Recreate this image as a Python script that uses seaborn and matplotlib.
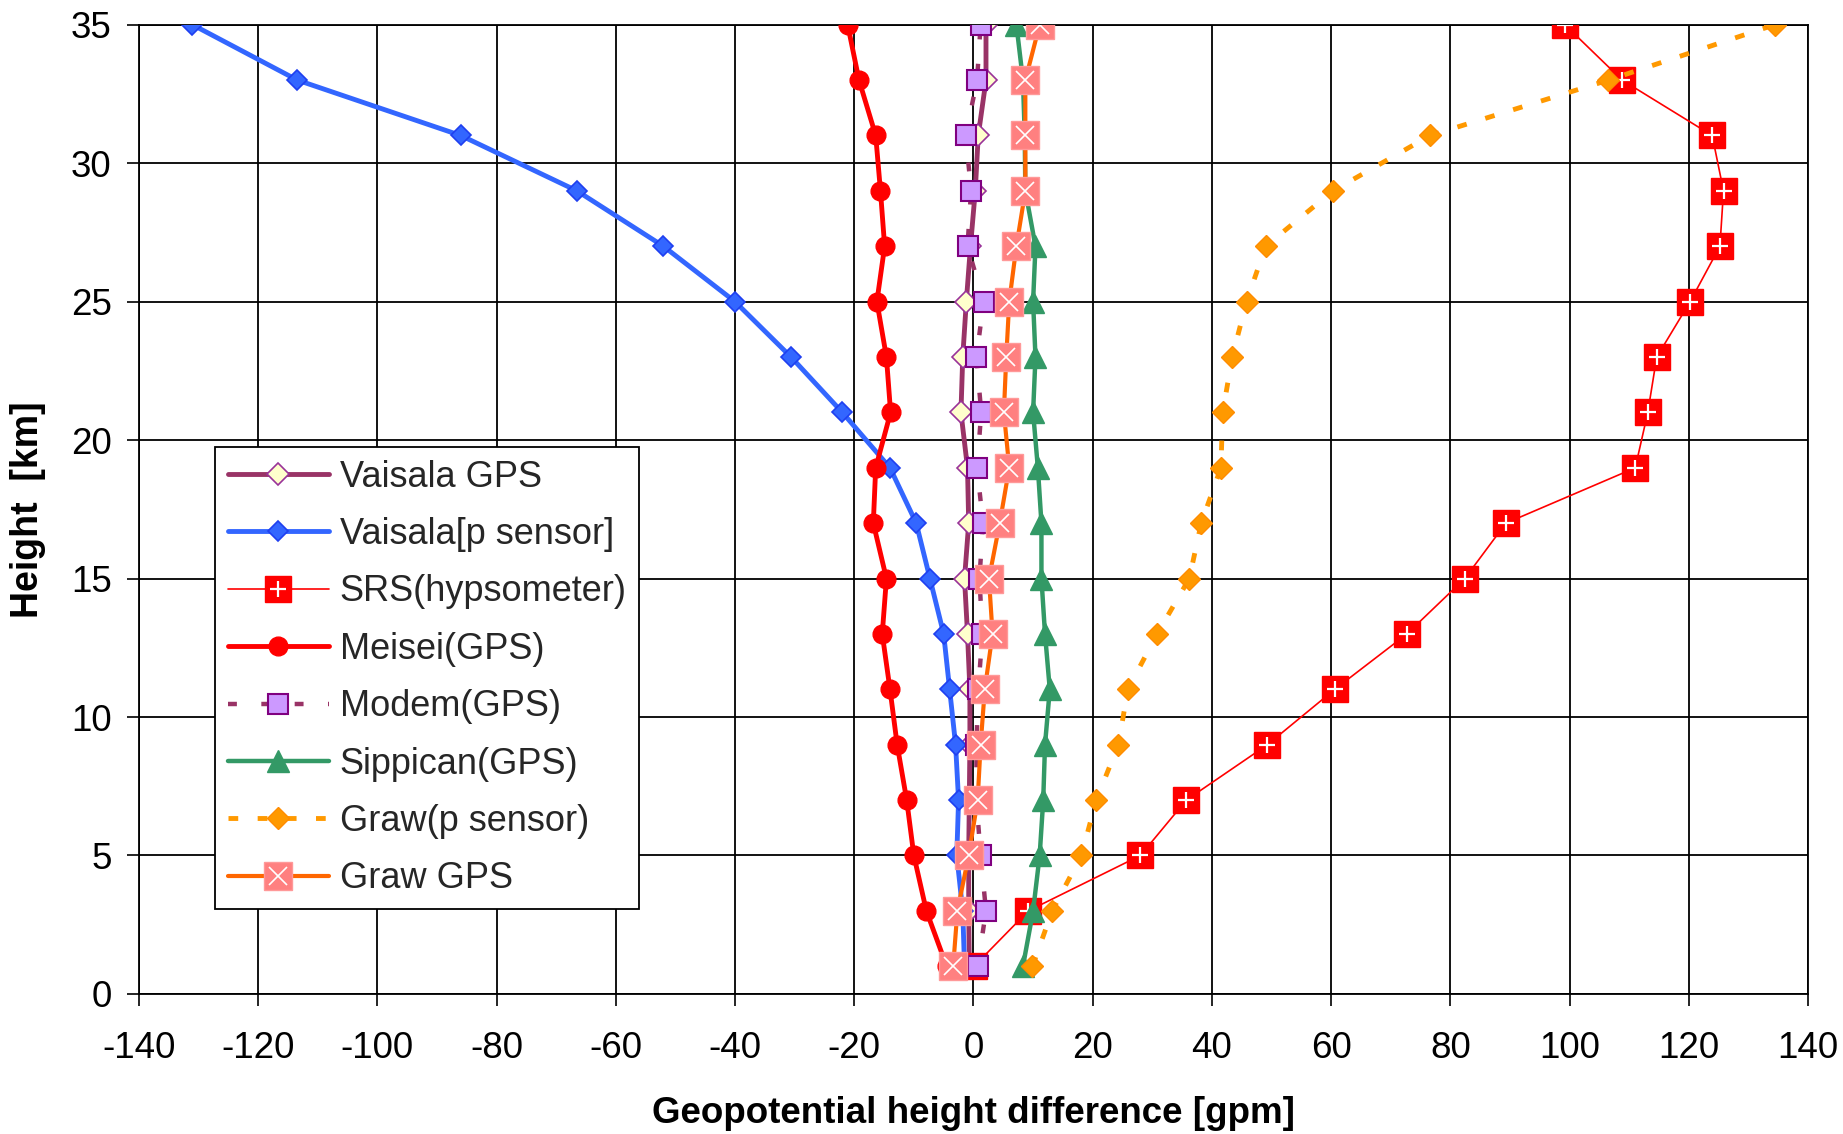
import matplotlib
matplotlib.use("Agg")
import matplotlib.pyplot as plt
from matplotlib.lines import Line2D
from matplotlib.legend_handler import HandlerTuple
import seaborn as sns
import numpy as np

# heights of the profile levels [km]
height = [1, 3, 5, 7, 9, 11, 13, 15, 17, 19, 21, 23, 25, 27, 29, 31, 33, 35]

# geopotential height differences [gpm]
vaisala_gps = [-0.7, -0.8, -0.8, -0.7, -0.6, -0.6, -1.0, -1.5, -0.8, -1.0,
               -2.1, -1.8, -1.2, -0.5, 0.3, 0.8, 2.1, 2.1]
vaisala_p = [-1.5, -1.8, -2.8, -2.5, -3.0, -4.0, -5.0, -7.3, -9.6, -14.0,
             -22.0, -30.6, -40.0, -52.0, -66.5, -86.0, -113.4, -131.0]
srs = [0.1, 9.2, 28.0, 35.7, 49.3, 60.6, 72.7, 82.4, 89.3, 111.0,
       113.1, 114.6, 120.2, 125.2, 125.8, 123.9, 108.8, 99.2]
meisei = [-4.5, -7.9, -10.0, -11.2, -12.8, -14.0, -15.3, -14.6, -16.8, -16.4,
          -13.9, -14.6, -16.2, -14.9, -15.6, -16.4, -19.2, -21.1]
modem = [0.7, 2.1, 1.2, 0.5, 0.5, 0.8, 1.5, 1.0, 1.6, 0.6,
         1.3, 0.5, 1.7, -1.0, -0.4, -1.3, 0.6, 1.2]
sippican = [8.3, 10.0, 11.1, 11.7, 12.0, 12.8, 12.0, 11.4, 11.4, 10.8,
            10.0, 10.4, 10.0, 10.4, 8.7, 8.6, 8.3, 7.2]
graw_p = [9.9, 13.2, 18.1, 20.6, 24.3, 25.9, 30.8, 36.2, 38.2, 41.5,
          41.8, 43.4, 45.8, 49.0, 60.3, 76.6, 106.5, 134.4]
graw_gps = [-3.4, -2.7, -0.8, 0.7, 1.2, 1.9, 3.2, 2.6, 4.4, 6.0,
            5.1, 5.5, 6.0, 7.2, 8.7, 8.7, 8.7, 11.1]

labels = ["Vaisala GPS", "Vaisala[p sensor]", "SRS(hypsometer)", "Meisei(GPS)",
          "Modem(GPS)", "Sippican(GPS)", "Graw(p sensor)", "Graw GPS"]
series = [vaisala_gps, vaisala_p, srs, meisei, modem, sippican, graw_p, graw_gps]

styles = [
    dict(color="#993366", lw=3.5, ls="-", marker="D", ms=11, mfc="#FFFFCC", mec="#993399", mew=1.2),
    dict(color="#3366FF", lw=3.5, ls="-", marker="D", ms=10.5, mfc="#3366FF", mec="#1F3FF0", mew=1.2),
    dict(color="#FF0000", lw=1.2, ls="-", marker="s", ms=19, mfc="#FF0000", mec="#FF0000", mew=1),
    dict(color="#FF0000", lw=3.5, ls="-", marker="o", ms=13.5, mfc="#FF0000", mec="#FF0000", mew=1),
    dict(color="#993366", lw=3.2, ls=(0, (2, 5.5)), marker="s", ms=15, mfc="#CC99FF", mec="#800080", mew=1.5),
    dict(color="#339966", lw=3.2, ls="-", marker="^", ms=16, mfc="#339966", mec="#339966", mew=1),
    dict(color="#FF9900", lw=3.5, ls=(0, (2, 4)), marker="D", ms=11, mfc="#FF9900", mec="#FF8C00", mew=1),
    dict(color="#FF6600", lw=3.0, ls="-", marker="s", ms=19.5, mfc="#FF8080", mec="#FF9999", mew=1),
]
# white glyphs drawn inside some square markers
overlays = {2: dict(marker="+", ms=12, mec="white", mew=1.6),
            7: dict(marker="x", ms=13, mec="white", mew=1.2)}

sns.set_theme(style="white")
plt.rcParams["font.family"] = ["Liberation Sans", "DejaVu Sans"]
plt.rcParams["axes.unicode_minus"] = False

fig = plt.figure(figsize=(18.43, 11.34), dpi=100)
ax = fig.add_axes([0.0753, 0.1235, 0.9058, 0.8547])

for i, (vals, st) in enumerate(zip(series, styles)):
    sns.lineplot(x=vals, y=height, sort=False, estimator=None, ax=ax,
                 legend=False, zorder=3 + i, **st)
    if i in overlays:
        ov = overlays[i]
        sns.lineplot(x=vals, y=height, sort=False, estimator=None, ax=ax,
                     legend=False, ls="none", zorder=3 + i + 0.5, **ov)

ax.set_xlim(-140, 140)
ax.set_ylim(0, 35)
ax.set_xticks(np.arange(-140, 141, 20))
ax.set_yticks(np.arange(0, 36, 5))
ax.grid(True, color="black", lw=1.3)
for sp in ax.spines.values():
    sp.set_color("black")
    sp.set_linewidth(1.3)
ax.tick_params(axis="both", direction="out", length=8.6, width=1.2, color="black",
               labelsize=26.5, labelcolor="black")
ax.tick_params(axis="x", pad=18, bottom=True)
ax.tick_params(axis="y", pad=11, left=True)

ax.set_xlabel("Geopotential height difference [gpm]", fontsize=26.5, fontweight="bold",
              labelpad=22, color="black")
ax.set_ylabel("Height  [km]", fontsize=27, fontweight="bold", labelpad=18, color="black")

handles = []
for i, st in enumerate(styles):
    h = Line2D([], [], **st)
    if i in overlays:
        h = (h, Line2D([], [], ls="none", **overlays[i]))
    handles.append(h)

leg = ax.legend(handles, labels, loc="upper left", bbox_to_anchor=(0.0457, 0.5643),
                borderaxespad=0, fontsize=26, handlelength=2.8, handletextpad=0.3,
                borderpad=0.35, labelspacing=0.62, fancybox=False, framealpha=1,
                edgecolor="black", handler_map={tuple: HandlerTuple(ndivide=1)})
leg.get_frame().set_linewidth(1.3)
leg.set_zorder(20)

fig.savefig("out.png", dpi=100, facecolor="white")
